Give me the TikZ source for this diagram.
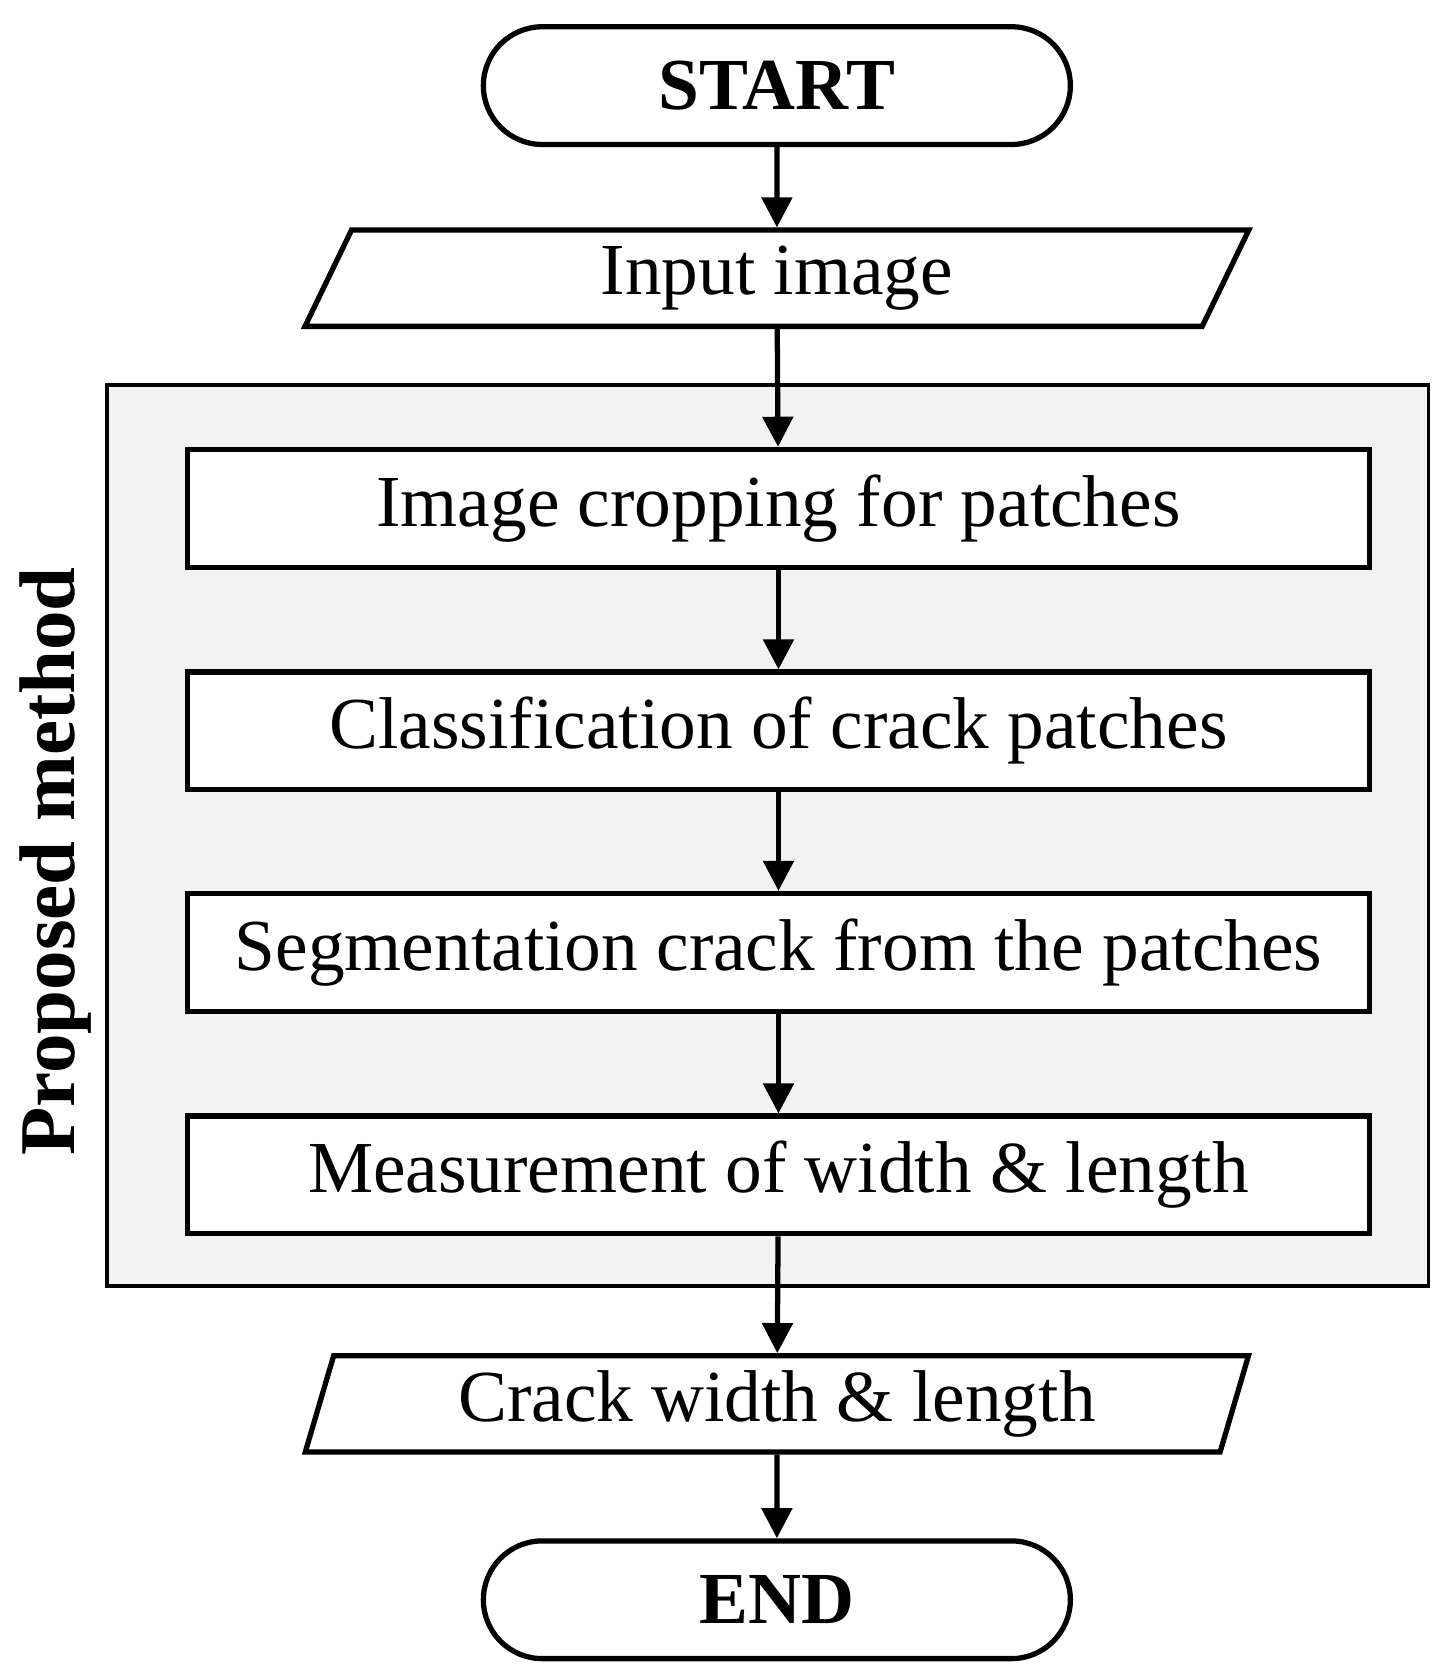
\documentclass[tikz,border=0pt]{standalone}
\usepackage{fontspec}
\setmainfont{Liberation Serif}
\usetikzlibrary{shapes.geometric, shapes.misc, arrows.meta}

\begin{document}
\begin{tikzpicture}[
  base/.style={draw, line width=1.4pt, font=\fontsize{19.5}{24}\selectfont},
  term/.style={base, rounded rectangle, minimum width=5.72cm, minimum height=1.1cm, font=\fontsize{19.5}{24}\selectfont\bfseries},
  io/.style={base, trapezium, trapezium left angle=77, trapezium right angle=103, trapezium stretches=true, minimum width=8.83cm, minimum height=0.9cm},
  proc/.style={base, fill=white, inner xsep=0pt, minimum width=11.05cm, minimum height=1.1cm},
  link/.style={-{Triangle[length=8pt, width=8pt]}, line width=1.4pt}
]
  \useasboundingbox (0,0) rectangle (13.6,-15.7);

  % Group of the proposed method
  \draw[line width=1pt, fill=gray!10] (1.0,-3.6) rectangle (13.35,-12.02);
  \node[rotate=90, font=\fontsize{21}{25}\selectfont\bfseries] (grp) at (0.52,-8.05) {Proposed method};

  % Flow
  \node[term] (start) at (7.26,-0.8) {START};
  \node[io] (input) at (7.26,-2.6) {Input image};
  \node[proc] (crop) at (7.275,-4.75) {Image cropping for patches};
  \node[proc] (cls) at (7.275,-6.83) {Classification of crack patches};
  \node[proc] (seg) at (7.275,-8.9) {Segmentation crack from the patches};
  \node[proc] (meas) at (7.275,-10.98) {Measurement of width \& length};
  \node[io] (output) at (7.26,-13.12) {Crack width \& length};
  \node[term] (end) at (7.26,-14.95) {END};

  \draw[link] (start) -- (input);
  \draw[link] (input) -- (crop);
  \draw[link] (crop) -- (cls);
  \draw[link] (cls) -- (seg);
  \draw[link] (seg) -- (meas);
  \draw[link] (meas) -- (output);
  \draw[link] (output) -- (end);
\end{tikzpicture}
\end{document}
